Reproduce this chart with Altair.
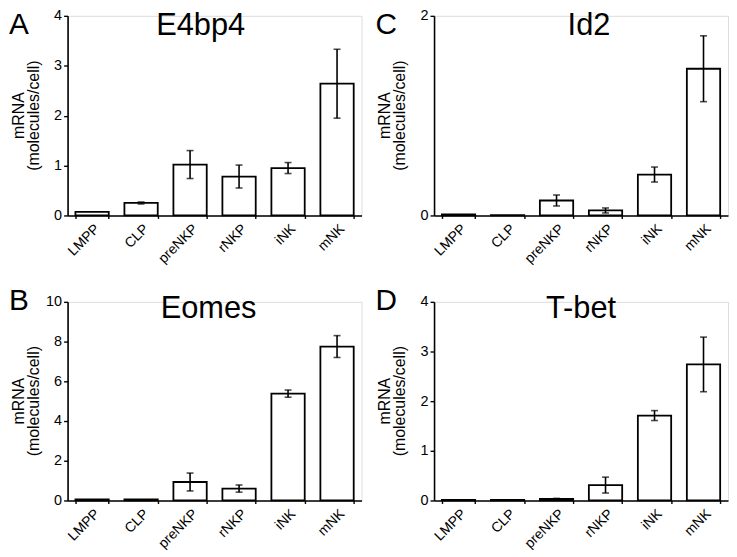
import altair as alt
import pandas as pd

cells = ["LMPP", "CLP", "preNKP", "rNKP", "iNK", "mNK"]

e4bp4_vals = [0.07, 0.25, 1.02, 0.78, 0.95, 2.64]
e4bp4_err = [0.0, 0.02, 0.28, 0.23, 0.11, 0.69]

id2_vals = [0.01, 0.004, 0.15, 0.05, 0.41, 1.47]
id2_err = [0.0, 0.0, 0.055, 0.025, 0.075, 0.33]

eomes_vals = [0.05, 0.05, 0.93, 0.60, 5.38, 7.75]
eomes_err = [0.0, 0.0, 0.45, 0.18, 0.18, 0.55]

tbet_vals = [0.01, 0.01, 0.03, 0.31, 1.71, 2.74]
tbet_err = [0.0, 0.0, 0.012, 0.16, 0.10, 0.55]

ytitle_lines = ["mRNA", "(molecules/cell)"]

FONT = "Liberation Sans"
W = 296


def panel(letter, title, vals, errs, ymax, ystep, title_x, letter_y, title_y, height):
    df = pd.DataFrame({"cell": cells, "value": vals})
    edf = pd.DataFrame({
        "cell": [c for c, e in zip(cells, errs) if e > 0],
        "lo": [v - e for v, e in zip(vals, errs) if e > 0],
        "hi": [v + e for v, e in zip(vals, errs) if e > 0],
    })
    xaxis = alt.Axis(labelAngle=-45, tickBand="extent", tickSize=3, labelPadding=3)
    xscale = alt.Scale(paddingInner=0.32, paddingOuter=0.16)
    xenc = alt.X("cell:N", sort=cells, title=None, scale=xscale, axis=xaxis)
    ticks = list(range(0, ymax + 1, ystep))
    yscale = alt.Scale(domain=[0, ymax], nice=False, zero=True)
    yaxis = alt.Axis(values=ticks, tickSize=4, labelPadding=2, format="d",
                     labelOverlap=False, title=None)
    bars = alt.Chart(df).mark_bar(fill="white", stroke="black", strokeWidth=1.8).encode(
        x=xenc, y=alt.Y("value:Q", scale=yscale, axis=yaxis, title=None)
    )
    rule = alt.Chart(edf).mark_rule(color="black", strokeWidth=1.6).encode(
        x=xenc, y=alt.Y("lo:Q", scale=yscale, axis=yaxis, title=None), y2="hi:Q"
    )
    cap_lo = alt.Chart(edf).mark_tick(color="black", size=7, thickness=1.6).encode(
        x=xenc, y=alt.Y("lo:Q", scale=yscale, axis=yaxis, title=None)
    )
    cap_hi = alt.Chart(edf).mark_tick(color="black", size=7, thickness=1.6).encode(
        x=xenc, y=alt.Y("hi:Q", scale=yscale, axis=yaxis, title=None)
    )
    yt1 = alt.Chart(pd.DataFrame({"t": [ytitle_lines[0]]})).mark_text(
        font=FONT, fontSize=16, angle=270, align="center", baseline="middle", color="black"
    ).encode(text="t:N", x=alt.value(-49), y=alt.value(height / 2))
    yt2 = alt.Chart(pd.DataFrame({"t": [ytitle_lines[1]]})).mark_text(
        font=FONT, fontSize=16, angle=270, align="center", baseline="middle", color="black"
    ).encode(text="t:N", x=alt.value(-34), y=alt.value(height / 2))
    let = alt.Chart(pd.DataFrame({"t": [letter]})).mark_text(
        font=FONT, fontSize=30, align="left", baseline="alphabetic", color="black"
    ).encode(text="t:N", x=alt.value(-59), y=alt.value(letter_y))
    ttl = alt.Chart(pd.DataFrame({"t": [title]})).mark_text(
        font=FONT, fontSize=31, align="center", baseline="alphabetic", color="black"
    ).encode(text="t:N", x=alt.value(title_x), y=alt.value(title_y))
    return alt.layer(bars, rule, cap_lo, cap_hi, yt1, yt2, let, ttl).properties(
        width=W, height=height)


pA = panel("A", "E4bp4", e4bp4_vals, e4bp4_err, 4, 1, 134, 18, 19, 201)
pC = panel("C", "Id2", id2_vals, id2_err, 2, 1, 156, 18, 19, 201)
pB = panel("B", "Eomes", eomes_vals, eomes_err, 10, 2, 142, 8, 16, 200)
pD = panel("D", "T-bet", tbet_vals, tbet_err, 4, 1, 148, 8, 16, 200)

chart = alt.vconcat(
    alt.hconcat(pA, pC, spacing=12),
    alt.hconcat(pB, pD, spacing=12),
    spacing=18,
).properties(
    padding={"left": 0, "top": -3, "right": 0, "bottom": 0}
).configure_view(strokeWidth=0).configure(background="white").configure_axis(
    grid=False,
    labelFont=FONT, labelColor="black",
    domainColor="black", domainWidth=1.6, tickColor="black", tickWidth=1.4,
).configure_axisX(labelFontSize=14).configure_axisY(labelFontSize=14.5, labelOverlap=False)

chart.save("out.html", embed_options={"renderer": "svg", "actions": False})
